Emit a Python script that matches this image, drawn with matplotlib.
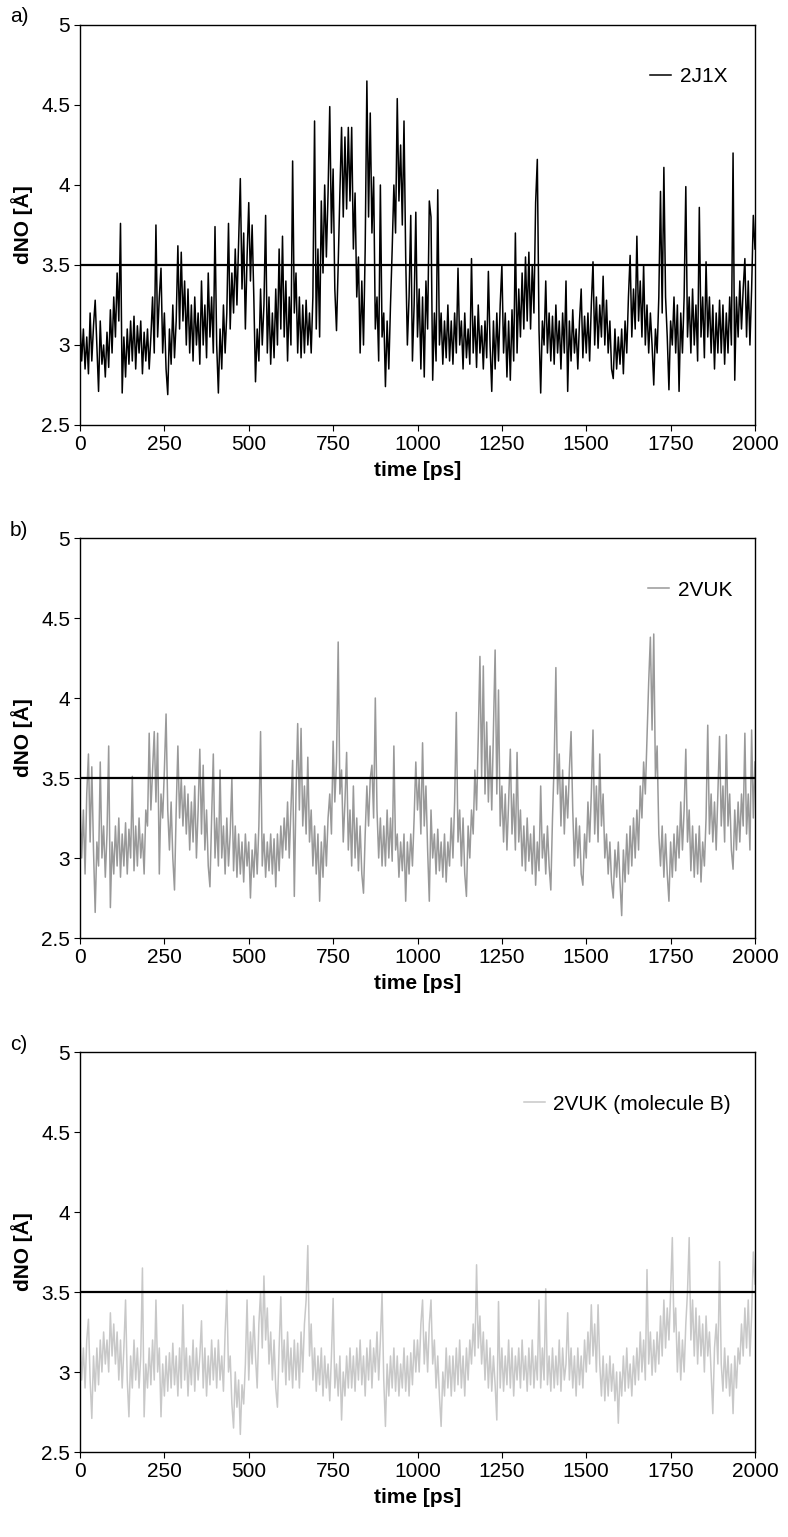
import numpy as np
import matplotlib
matplotlib.use("Agg")
import matplotlib.pyplot as plt

plt.rcParams['font.family'] = ['Liberation Sans', 'DejaVu Sans']

# time axis (ps), one value every 5 ps
time_ps = np.arange(0, 2001, 5)

d_2j1x = [
    3.15, 2.90, 3.10, 2.85, 3.05, 2.82, 3.20, 2.90, 3.12, 3.28, 3.00, 2.71, 3.15, 2.88, 3.00, 2.80, 3.08, 2.86, 3.22, 2.95,
    3.30, 3.05, 3.45, 3.15, 3.76, 2.70, 3.05, 2.80, 3.10, 2.88, 3.15, 2.90, 3.18, 2.85, 3.12, 2.95, 3.15, 2.82, 3.08, 2.90,
    3.10, 2.85, 3.05, 3.30, 2.95, 3.75, 3.05, 3.30, 3.48, 2.95, 3.20, 2.85, 2.69, 3.10, 2.88, 3.25, 2.92, 3.15, 3.62, 3.10,
    3.58, 3.15, 3.40, 3.00, 3.35, 2.95, 3.25, 2.90, 3.30, 3.00, 3.20, 2.88, 3.40, 3.00, 3.25, 2.92, 3.45, 3.05, 3.30, 2.95,
    3.74, 3.00, 2.70, 3.10, 2.85, 3.25, 2.95, 3.20, 3.76, 3.10, 3.45, 3.20, 3.60, 3.25, 3.65, 4.04, 3.35, 3.70, 3.10, 3.55,
    3.89, 3.40, 3.75, 3.30, 2.77, 3.10, 2.90, 3.35, 3.00, 3.25, 3.81, 2.95, 3.30, 2.88, 3.20, 2.92, 3.35, 3.00, 3.60, 3.10,
    3.68, 3.05, 3.40, 2.90, 3.30, 3.00, 4.15, 3.20, 3.45, 2.95, 3.30, 2.92, 3.25, 2.95, 3.28, 3.00, 3.20, 2.95, 3.30, 4.40,
    3.10, 3.60, 3.05, 3.90, 3.45, 4.00, 3.55, 3.95, 4.49, 3.70, 4.10, 3.35, 3.09, 3.50, 3.95, 4.36, 3.80, 4.30, 3.85, 4.36,
    3.90, 4.36, 3.60, 3.95, 3.30, 3.55, 2.95, 3.40, 3.00, 3.60, 4.65, 3.80, 4.45, 3.70, 4.05, 3.10, 3.30, 2.90, 4.00, 3.05,
    3.20, 2.74, 3.15, 2.85, 3.25, 3.60, 4.00, 3.70, 4.54, 3.90, 4.25, 3.75, 4.40, 3.55, 3.00, 3.30, 3.81, 2.90, 3.25, 3.83,
    3.05, 3.35, 2.85, 3.30, 2.80, 3.40, 3.10, 3.90, 3.80, 2.78, 3.20, 2.90, 3.97, 3.00, 3.20, 2.88, 3.15, 2.92, 3.25, 2.90,
    3.15, 2.88, 3.20, 2.95, 3.48, 3.00, 3.15, 2.85, 3.20, 2.92, 3.10, 2.88, 3.54, 2.95, 3.18, 2.86, 3.25, 2.95, 3.12, 2.85,
    3.15, 2.92, 3.46, 3.00, 2.71, 3.15, 2.85, 3.20, 2.90, 3.25, 3.50, 2.95, 3.20, 2.80, 3.15, 2.78, 3.22, 2.90, 3.70, 2.95,
    3.35, 3.05, 3.45, 3.10, 3.55, 3.15, 3.58, 3.10, 3.50, 3.20, 3.89, 4.16, 3.10, 2.70, 3.15, 3.00, 3.40, 2.95, 3.20, 2.90,
    3.18, 2.88, 3.25, 2.95, 3.15, 2.85, 3.20, 2.95, 3.40, 2.71, 3.15, 2.90, 3.22, 2.95, 3.10, 2.85, 3.15, 3.35, 2.92, 3.18,
    2.95, 3.20, 2.90, 3.25, 3.52, 3.00, 3.30, 2.98, 3.25, 3.05, 3.43, 3.00, 3.28, 2.95, 3.15, 2.85, 2.79, 3.10, 2.85, 3.05,
    2.88, 3.10, 2.82, 3.15, 2.95, 3.30, 3.56, 3.05, 3.35, 3.10, 3.68, 3.15, 3.40, 3.05, 3.50, 3.00, 3.25, 2.95, 3.20, 3.00,
    2.75, 3.10, 2.95, 3.30, 3.96, 3.20, 4.11, 3.30, 3.05, 2.72, 3.15, 3.00, 3.30, 2.95, 3.25, 2.71, 3.20, 2.95, 3.30, 3.99,
    3.05, 3.30, 2.95, 3.35, 3.00, 3.25, 2.90, 3.86, 3.05, 3.30, 2.92, 3.52, 3.05, 3.30, 2.95, 3.25, 2.85, 3.20, 2.95, 3.28,
    2.95, 3.25, 2.88, 3.20, 2.95, 3.30, 3.00, 4.20, 2.78, 3.30, 3.05, 3.40, 3.10, 3.35, 3.54, 3.05, 3.40, 3.00, 3.35, 3.81,
    3.60,
]

d_2vuk = [
    3.35, 3.00, 3.30, 2.90, 3.40, 3.65, 3.10, 3.57, 3.05, 2.66, 3.10, 2.95, 3.60, 3.00, 3.20, 2.88, 3.15, 3.70, 2.69, 3.10,
    2.90, 3.20, 2.95, 3.25, 2.88, 3.15, 2.95, 3.22, 2.90, 3.18, 3.00, 3.51, 2.92, 3.20, 2.95, 3.25, 3.00, 3.15, 2.90, 3.30,
    3.20, 3.78, 3.30, 3.55, 3.79, 3.35, 3.78, 2.90, 3.40, 3.25, 3.55, 3.90, 3.30, 3.05, 3.35, 3.00, 2.80, 3.30, 3.70, 3.25,
    3.50, 3.20, 3.45, 3.15, 3.40, 3.05, 3.35, 3.10, 3.45, 3.00, 3.30, 3.68, 3.15, 3.58, 3.05, 3.30, 2.95, 2.82, 3.25, 3.65,
    3.00, 3.25, 2.95, 3.55, 3.00, 3.20, 2.90, 3.25, 2.95, 3.15, 3.50, 2.92, 3.20, 2.88, 3.15, 2.90, 3.10, 2.85, 3.15, 2.95,
    3.10, 2.75, 3.05, 2.88, 3.15, 2.90, 3.20, 3.79, 2.95, 3.15, 2.88, 3.10, 2.92, 3.15, 2.90, 3.12, 2.82, 3.15, 2.92, 3.20,
    3.00, 3.25, 3.05, 3.35, 3.00, 3.30, 3.61, 2.76, 3.40, 3.84, 3.30, 3.81, 3.20, 3.45, 3.15, 3.63, 3.10, 3.30, 2.95, 3.20,
    2.90, 3.15, 2.73, 3.10, 2.88, 3.20, 2.95, 3.25, 3.40, 3.15, 3.73, 3.35, 3.60, 4.35, 3.40, 3.55, 3.10, 3.35, 3.66, 3.05,
    3.30, 2.95, 3.45, 3.00, 3.25, 2.92, 3.20, 2.90, 2.78, 3.15, 3.45, 3.20, 3.50, 3.58, 3.25, 4.00, 3.30, 3.00, 3.25, 2.95,
    3.20, 2.95, 3.30, 3.00, 3.25, 2.98, 3.70, 3.05, 3.15, 2.88, 3.10, 2.92, 3.15, 2.73, 3.10, 2.90, 3.15, 2.95, 3.25, 3.60,
    3.30, 3.50, 3.15, 3.72, 3.20, 3.45, 3.05, 2.73, 3.30, 3.00, 3.15, 2.90, 3.18, 2.92, 3.10, 2.88, 3.15, 2.85, 3.10, 2.95,
    3.25, 3.00, 3.35, 3.91, 3.10, 3.30, 2.95, 3.25, 2.90, 2.76, 3.20, 3.00, 3.30, 3.15, 3.55, 3.30, 3.75, 4.26, 3.50, 4.20,
    3.40, 3.85, 3.35, 3.70, 3.30, 3.80, 4.30, 3.40, 4.05, 3.20, 3.45, 3.10, 3.40, 3.05, 3.35, 3.68, 3.15, 3.40, 3.05, 3.66,
    3.10, 3.30, 2.95, 3.20, 2.92, 3.25, 2.98, 3.15, 2.90, 3.20, 2.83, 3.10, 2.92, 3.45, 3.00, 3.15, 2.90, 3.20, 2.95, 2.80,
    3.25, 3.60, 4.19, 3.40, 3.65, 3.20, 3.55, 3.15, 3.45, 3.25, 3.55, 3.79, 3.30, 2.95, 3.25, 3.00, 3.20, 2.90, 2.83, 3.15,
    3.00, 3.35, 3.10, 3.40, 3.80, 3.15, 3.45, 3.10, 3.65, 3.20, 3.40, 3.00, 3.15, 2.90, 3.10, 2.85, 2.75, 3.05, 2.88, 3.10,
    2.85, 2.64, 3.05, 2.85, 3.15, 2.90, 3.20, 2.95, 3.25, 3.00, 3.30, 3.05, 3.45, 3.25, 3.60, 3.40, 3.75, 4.10, 4.38, 3.80,
    4.40, 3.50, 3.70, 3.15, 2.95, 3.20, 2.88, 3.15, 2.90, 2.73, 3.10, 2.88, 3.15, 2.92, 3.20, 3.00, 3.35, 3.05, 3.30, 3.68,
    3.10, 3.30, 2.92, 3.20, 2.88, 3.15, 2.90, 3.20, 2.85, 3.10, 2.95, 3.25, 3.83, 3.15, 3.40, 3.10, 3.35, 3.05, 3.40, 3.76,
    3.20, 3.45, 3.10, 3.77, 3.20, 3.40, 3.05, 2.93, 3.30, 3.05, 3.35, 3.10, 3.40, 3.20, 3.78, 3.15, 3.40, 3.05, 3.80, 3.25,
    3.60,
]

d_2vuk_b = [
    3.25, 2.95, 3.15, 2.90, 3.20, 3.33, 2.95, 2.71, 3.10, 2.88, 3.15, 2.92, 3.20, 3.00, 3.25, 3.05, 3.20, 3.00, 3.37, 3.10,
    3.30, 3.05, 3.25, 2.95, 3.20, 2.90, 3.15, 3.45, 2.95, 2.72, 3.10, 2.90, 3.20, 2.95, 3.15, 2.90, 3.10, 3.65, 2.72, 3.05,
    2.90, 3.15, 2.92, 3.20, 2.95, 3.45, 3.00, 3.15, 2.72, 3.05, 2.85, 3.10, 2.88, 3.12, 2.90, 3.18, 2.92, 3.10, 2.85, 3.15,
    2.90, 3.42, 2.95, 3.15, 2.85, 3.10, 2.92, 3.20, 2.88, 3.15, 2.95, 3.10, 3.32, 2.90, 3.15, 2.85, 3.10, 2.92, 3.20, 2.95,
    3.15, 2.90, 3.20, 2.95, 3.10, 2.88, 3.25, 3.51, 3.00, 3.10, 2.80, 2.65, 3.00, 2.78, 2.95, 2.61, 2.92, 2.80, 3.05, 3.45,
    2.95, 3.25, 3.05, 3.35, 3.10, 2.90, 3.30, 3.50, 3.15, 3.60, 3.20, 3.40, 3.05, 3.25, 2.95, 3.20, 2.90, 2.78, 3.15, 3.47,
    3.00, 3.20, 2.92, 3.25, 2.95, 3.15, 2.90, 3.20, 2.95, 3.18, 2.90, 3.25, 3.00, 3.30, 3.45, 3.79, 3.10, 3.30, 2.95, 3.15,
    2.88, 3.10, 2.92, 3.15, 2.85, 3.10, 2.90, 3.05, 2.82, 3.10, 3.46, 2.90, 3.05, 2.85, 3.10, 2.70, 3.00, 2.85, 3.10, 2.90,
    3.15, 2.90, 3.10, 2.88, 3.15, 2.95, 3.20, 2.92, 3.10, 2.85, 3.15, 2.95, 3.20, 2.90, 3.15, 3.00, 3.25, 2.95, 3.20, 3.49,
    2.95, 2.66, 3.05, 2.85, 3.10, 2.90, 3.15, 2.88, 3.10, 2.85, 3.05, 2.90, 3.15, 2.88, 3.10, 2.85, 3.12, 2.92, 3.20, 3.00,
    3.20, 3.00, 3.30, 3.45, 3.05, 3.25, 3.00, 3.30, 3.45, 3.05, 3.20, 2.90, 3.10, 2.85, 2.66, 3.00, 2.85, 3.15, 2.90, 3.10,
    2.85, 3.10, 2.88, 3.15, 2.92, 3.20, 2.90, 3.10, 2.85, 3.15, 2.95, 3.20, 3.05, 3.30, 3.10, 3.67, 3.15, 3.35, 3.05, 3.25,
    2.95, 3.20, 2.90, 3.15, 2.88, 3.10, 2.92, 2.70, 3.44, 2.90, 3.15, 2.88, 3.10, 2.92, 3.20, 2.90, 3.15, 2.85, 3.10, 2.95,
    3.15, 2.90, 3.20, 2.95, 3.10, 2.88, 3.15, 2.92, 3.20, 2.90, 3.10, 2.95, 3.45, 2.90, 3.15, 2.95, 3.52, 2.92, 3.10, 2.88,
    3.15, 2.90, 3.10, 2.92, 3.20, 2.88, 3.15, 2.95, 3.05, 3.37, 2.95, 3.15, 2.90, 3.10, 2.85, 3.15, 2.92, 3.10, 2.90, 3.20,
    3.00, 3.25, 3.05, 3.42, 3.10, 3.30, 3.00, 3.42, 3.05, 2.85, 3.10, 2.82, 3.05, 2.85, 3.10, 2.88, 3.05, 2.82, 3.00, 2.68,
    3.00, 2.85, 3.10, 2.88, 3.15, 2.90, 3.05, 2.85, 3.10, 2.92, 3.15, 2.95, 3.25, 3.00, 3.20, 2.95, 3.64, 3.05, 3.25, 2.98,
    3.20, 3.00, 3.25, 3.05, 3.35, 3.10, 3.45, 3.15, 3.40, 3.20, 3.50, 3.84, 3.25, 3.40, 3.00, 3.25, 2.95, 3.20, 3.00, 3.30,
    3.50, 3.84, 3.20, 3.45, 3.10, 3.40, 3.05, 3.35, 3.10, 3.30, 3.00, 3.35, 3.10, 3.25, 3.00, 2.74, 3.15, 3.30, 3.05, 3.69,
    3.05, 2.88, 3.15, 2.90, 3.10, 2.85, 3.05, 2.74, 3.10, 2.90, 3.15, 3.05, 3.30, 3.10, 3.40, 3.15, 3.45, 3.10, 3.35, 3.75,
    3.55,
]

threshold = 3.5
series = [
    ("a)", "2J1X", d_2j1x, "#000000"),
    ("b)", "2VUK", d_2vuk, "#999999"),
    ("c)", "2VUK (molecule B)", d_2vuk_b, "#c8c8c8"),
]
x_ticks = [0, 250, 500, 750, 1000, 1250, 1500, 1750, 2000]
y_ticks = [2.5, 3, 3.5, 4, 4.5, 5]
y_ticklabels = ["2.5", "3", "3.5", "4", "4.5", "5"]

W, H = 788, 1537
fig = plt.figure(figsize=(W / 100, H / 100), dpi=100)

FS = 15
axes_tops = [25, 538, 1052]
legend_x = [0.845, 0.842, 0.658]
for (tag, name, vals, col), top, lx in zip(series, axes_tops, legend_x):
    left, right, height = 80, 755, 400
    ax = fig.add_axes([left / W, 1 - (top + height) / H, (right - left) / W, height / H])
    ax.plot(time_ps, vals, color=col, lw=1.1, label=name)
    ax.axhline(threshold, color="black", lw=1.6)
    ax.set_xlim(0, 2000)
    ax.set_ylim(2.5, 5)
    ax.set_xticks(x_ticks)
    ax.set_yticks(y_ticks)
    ax.set_yticklabels(y_ticklabels)
    ax.tick_params(direction="out", length=4, width=0.8, labelsize=FS, pad=3)
    for s in ax.spines.values():
        s.set_linewidth(1.0)
    ax.set_xlabel("time [ps]", fontsize=FS, fontweight="bold", labelpad=5)
    ax.set_ylabel("dNO [Å]", fontsize=FS, fontweight="bold", labelpad=6)
    ax.legend(loc="center left", bbox_to_anchor=(lx, 0.87), frameon=False,
              fontsize=FS, handlelength=1.0, handletextpad=0.4,
              borderpad=0, borderaxespad=0)
    fig.text(10 / W, 1 - (top - 8) / H, tag, fontsize=FS, ha="left", va="center")

fig.savefig("out.png", dpi=100)
